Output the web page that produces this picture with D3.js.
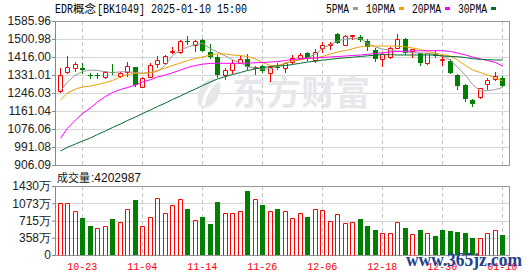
<!DOCTYPE html>
<html>
<head>
<meta charset="utf-8">
<script src="https://cdn.jsdelivr.net/npm/d3@7"></script>
<style>
  body { margin: 0; background: #fff; }
  svg { display: block; }
</style>
</head>
<body>
<div id="chart"></div>
<script>
// trading days shown in the window
const dates = [
  '10-18', '10-21', '10-22', '10-23', '10-24', '10-25', '10-28', '10-29', '10-30', '10-31',
  '11-01', '11-04', '11-05', '11-06', '11-07', '11-08', '11-11', '11-12', '11-13', '11-14',
  '11-15', '11-18', '11-19', '11-20', '11-21', '11-22', '11-25', '11-26', '11-27', '11-28',
  '11-29', '12-02', '12-03', '12-04', '12-05', '12-06', '12-09', '12-10', '12-11', '12-12',
  '12-13', '12-16', '12-17', '12-18', '12-19', '12-20', '12-23', '12-24', '12-25', '12-26',
  '12-27', '12-30', '12-31', '01-02', '01-03', '01-06', '01-07', '01-08', '01-09', '01-10',
];

const open = [
  1255.5, 1346.6, 1365.5, 1362.6, 1331.0, 1329.5, 1320.2, 1346.6, 1326.3, 1343.8,
  1367.4, 1275.8, 1323.0, 1381.5, 1386.3, 1441.0, 1438.2, 1493.0, 1472.7, 1496.3,
  1441.0, 1417.4, 1331.0, 1354.6, 1389.1, 1405.1, 1365.5, 1373.5, 1339.0, 1370.2,
  1365.5, 1391.0, 1412.7, 1433.5, 1401.8, 1457.1, 1474.1, 1524.6, 1474.1, 1515.1,
  1509.0, 1490.1, 1449.0, 1405.1, 1414.6, 1459.9, 1499.6, 1445.7, 1433.5, 1386.3,
  1428.7, 1401.8, 1398.5, 1331.0, 1283.8, 1213.0, 1225.7, 1287.1, 1310.7, 1315.4,
];
const high = [
  1365.5, 1420.7, 1393.8, 1389.1, 1341.9, 1340.5, 1349.9, 1381.5, 1346.6, 1391.0,
  1370.2, 1320.2, 1386.3, 1420.7, 1425.4, 1464.6, 1496.3, 1515.1, 1496.3, 1499.6,
  1477.4, 1425.4, 1362.6, 1401.8, 1420.7, 1428.7, 1373.5, 1378.2, 1373.5, 1386.3,
  1393.8, 1425.4, 1433.5, 1441.0, 1452.4, 1488.2, 1488.2, 1530.7, 1519.9, 1519.9,
  1519.9, 1503.3, 1457.1, 1436.3, 1464.6, 1524.6, 1504.3, 1452.4, 1436.3, 1436.3,
  1444.3, 1425.4, 1405.1, 1335.7, 1288.5, 1216.3, 1271.1, 1315.4, 1343.8, 1327.7,
];
const low = [
  1252.2, 1341.9, 1351.3, 1339.0, 1315.4, 1315.4, 1315.4, 1335.7, 1320.2, 1327.7,
  1279.1, 1272.9, 1320.2, 1370.2, 1381.5, 1433.5, 1433.5, 1476.0, 1445.7, 1444.3,
  1409.9, 1320.2, 1310.7, 1341.9, 1386.3, 1357.9, 1334.3, 1346.6, 1304.1, 1360.8,
  1346.6, 1386.3, 1405.1, 1401.8, 1393.8, 1441.0, 1452.4, 1480.7, 1471.2, 1499.6,
  1491.5, 1449.0, 1398.5, 1374.9, 1409.9, 1457.1, 1430.2, 1414.6, 1378.2, 1382.9,
  1414.6, 1378.2, 1339.0, 1264.9, 1209.7, 1186.1, 1224.2, 1264.9, 1307.4, 1279.1,
];
const close = [
  1331.0, 1370.2, 1381.5, 1354.6, 1327.0, 1328.0, 1346.6, 1339.0, 1341.0, 1374.9,
  1282.4, 1315.4, 1378.2, 1401.8, 1420.7, 1444.3, 1491.5, 1488.2, 1493.0, 1445.7,
  1414.6, 1331.0, 1354.6, 1389.1, 1405.1, 1367.4, 1370.2, 1351.3, 1370.2, 1362.6,
  1389.1, 1412.7, 1425.4, 1405.1, 1441.0, 1472.7, 1477.4, 1483.5, 1515.1, 1519.9,
  1496.3, 1460.9, 1405.1, 1430.2, 1459.9, 1499.6, 1433.5, 1452.4, 1389.1, 1433.5,
  1420.7, 1405.1, 1341.9, 1280.5, 1217.7, 1194.1, 1268.2, 1307.4, 1326.3, 1280.5,
];
const volume = [
  10710000, 10710000, 9060000, 7670000, 6010000, 5530000, 5940000, 7460000, 6770000, 9470000,
  11400000, 5940000, 7810000, 11750000, 8640000, 10360000, 11540000, 9470000, 7190000, 7810000,
  6420000, 10980000, 8640000, 8640000, 9060000, 13260000, 11540000, 10360000, 9060000, 9530000,
  9060000, 7600000, 8640000, 7880000, 9470000, 9260000, 6980000, 8430000, 6570000, 6770000,
  7460000, 6010000, 5180000, 4490000, 4490000, 6770000, 5600000, 4290000, 5180000, 4490000,
  3940000, 5180000, 4970000, 4770000, 4560000, 3520000, 3460000, 4490000, 5180000, 4202987,
];

// moving averages
const ma5 = [
  1255.5, 1298.0, 1331.0, 1347.5, 1354.6, 1352.3, 1346.6, 1341.9, 1346.2, 1346.6,
  1342.8, 1339.0, 1341.9, 1347.5, 1378.2, 1423.0, 1449.0, 1463.2, 1475.0, 1479.8,
  1456.1, 1439.6, 1420.7, 1403.2, 1387.7, 1369.7, 1364.1, 1359.3, 1359.3, 1371.1,
  1386.3, 1397.1, 1403.2, 1411.3, 1430.2, 1456.1, 1475.0, 1491.5, 1500.9, 1504.3,
  1503.3, 1479.8, 1463.2, 1453.8, 1447.6, 1443.3, 1440.5, 1436.3, 1434.9, 1433.5,
  1427.8, 1418.4, 1401.8, 1366.5, 1331.0, 1286.2, 1255.5, 1256.9, 1262.5, 1272.0,
];
const ma10 = [
  1213.0, 1246.0, 1264.9, 1274.4, 1279.1, 1286.2, 1295.6, 1305.1, 1321.6, 1333.4,
  1339.0, 1339.0, 1342.8, 1352.3, 1364.1, 1375.9, 1387.7, 1399.5, 1408.9, 1416.0,
  1425.4, 1431.1, 1430.2, 1425.4, 1423.0, 1418.4, 1406.5, 1390.0, 1375.9, 1375.9,
  1385.4, 1397.1, 1404.2, 1408.9, 1411.3, 1418.4, 1430.2, 1439.6, 1446.7, 1454.7,
  1464.6, 1467.9, 1467.9, 1467.9, 1467.9, 1467.0, 1464.2, 1458.5, 1451.4, 1442.0,
  1433.5, 1427.8, 1420.7, 1401.8, 1375.9, 1354.6, 1342.8, 1331.0, 1316.9, 1302.7,
];
const ma20 = [
  1032.1, 1079.4, 1118.6, 1149.2, 1175.2, 1203.5, 1229.5, 1248.4, 1262.5, 1272.0,
  1283.8, 1298.0, 1308.8, 1321.6, 1331.0, 1341.4, 1354.6, 1366.5, 1375.9, 1382.0,
  1385.8, 1386.3, 1386.3, 1386.3, 1386.3, 1387.7, 1388.6, 1390.0, 1392.4, 1394.3,
  1399.5, 1404.2, 1407.5, 1409.9, 1411.3, 1414.1, 1416.0, 1418.4, 1420.7, 1423.0,
  1425.4, 1428.7, 1432.5, 1436.3, 1439.6, 1442.0, 1443.9, 1444.3, 1445.2, 1445.7,
  1445.7, 1445.7, 1442.0, 1434.9, 1425.4, 1416.0, 1406.5, 1399.5, 1390.0, 1373.5,
];
const ma30 = [
  972.2, 989.7, 1005.2, 1019.4, 1033.6, 1050.1, 1066.6, 1083.1, 1099.7, 1116.2,
  1132.7, 1149.2, 1165.8, 1182.3, 1198.8, 1215.3, 1231.9, 1248.4, 1264.9, 1281.4,
  1298.0, 1312.1, 1323.9, 1333.4, 1342.8, 1352.3, 1360.3, 1366.5, 1371.1, 1373.5,
  1375.9, 1380.6, 1386.7, 1392.4, 1396.2, 1400.9, 1405.1, 1408.9, 1412.2, 1415.1,
  1418.4, 1421.7, 1424.0, 1427.8, 1426.8, 1425.4, 1425.4, 1425.4, 1425.4, 1425.4,
  1425.4, 1420.7, 1418.4, 1417.4, 1413.6, 1408.0, 1405.1, 1403.2, 1401.8, 1401.8,
];

const priceTicks = [906.09, 991.08, 1076.06, 1161.04, 1246.03, 1331.01, 1416.00, 1500.98, 1585.96];
const volumeTicks = [0, 3575000, 7150000, 10725000, 14300000];
const volumeTickLabels = ['0', '358万', '715万', '1073万', '1430万'];
const dateTicks = ['10-23', '11-04', '11-14', '11-26', '12-06', '12-18', '12-30', '01-10'];
const maNames = ['5PMA', '10PMA', '20PMA', '30PMA'];

const colors = {
  up: '#ff0000',
  down: '#008000',
  ma: ['#999999', '#f0a000', '#ff00ff', '#006e30'],
  grid: '#d6d6d6',
  frame: '#999999',
};

const W = 530, H = 276;
const plot = { left: 55, right: 509 };
const price = { top: 21, bottom: 165 };
const vol = { top: 186, bottom: 255 };
const sansFont = '"Liberation Sans", Arial, sans-serif';
const monoFont = '"Liberation Mono", "DejaVu Sans Mono", monospace';
const cjkFont = '"Noto Sans CJK SC", sans-serif';

const svg = d3.select('#chart').append('svg')
  .attr('width', W)
  .attr('height', H);

const x = d3.scaleBand().domain(dates).range([56.5, 506.5]);
const cx = d => Math.floor(x(d) + x.bandwidth() / 2) + 0.5;
const yP = d3.scaleLinear().domain([906.09, 1585.96]).range([price.bottom, price.top]);
const yV = d3.scaleLinear().domain([0, 14300000]).range([vol.bottom, vol.top]);
const px = v => Math.round(v) + 0.5;

const candles = dates.map((d, i) => ({
  date: d, open: open[i], high: high[i], low: low[i], close: close[i], volume: volume[i],
  up: close[i] >= open[i],
  volUp: i === 0 ? close[i] >= open[i] : close[i] >= close[i - 1],
}));

// grids
const grid = svg.append('g').attr('class', 'grid');
grid.selectAll('line.h')
  .data(priceTicks)
  .join('line')
  .attr('class', 'h')
  .attr('x1', plot.left).attr('x2', plot.right)
  .attr('y1', d => px(yP(d))).attr('y2', d => px(yP(d)))
  .attr('stroke', colors.grid);
grid.selectAll('line.hv')
  .data(volumeTicks)
  .join('line')
  .attr('class', 'hv')
  .attr('x1', plot.left).attr('x2', plot.right)
  .attr('y1', d => px(yV(d))).attr('y2', d => px(yV(d)))
  .attr('stroke', colors.grid);
[[price.top, price.bottom], [vol.top, vol.bottom]].forEach(([t, b]) => {
  grid.append('g').selectAll('line')
    .data(dateTicks)
    .join('line')
    .attr('x1', d => cx(d)).attr('x2', d => cx(d))
    .attr('y1', t).attr('y2', b)
    .attr('stroke', '#c4c4c4')
    .attr('stroke-dasharray', '4,3');
});

// east money watermark
const wm = svg.append('g').attr('fill', '#e7e7eb');
wm.append('ellipse')
  .attr('cx', 209).attr('cy', 93)
  .attr('rx', 10).attr('ry', 16)
  .attr('transform', 'rotate(28 209 93)');
wm.append('path')
  .attr('d', 'M203,106 C204,96 210,86 219,79')
  .attr('fill', 'none')
  .attr('stroke', '#fff')
  .attr('stroke-width', 3);
wm.append('text')
  .attr('x', 232).attr('y', 105)
  .attr('font-family', cjkFont)
  .attr('font-weight', 'bold')
  .attr('font-size', 34)
  .attr('textLength', 138)
  .text('东方财富');

// frames
[[price.top, price.bottom], [vol.top, vol.bottom]].forEach(([t, b]) => {
  svg.append('rect')
    .attr('x', plot.left + 0.5).attr('y', t + 0.5)
    .attr('width', plot.right - plot.left).attr('height', b - t)
    .attr('fill', 'none')
    .attr('stroke', colors.frame);
});

// candles
const cg = svg.append('g').attr('class', 'candles');
candles.forEach(c => {
  const xc = cx(c.date);
  const yo = Math.round(yP(c.open));
  const yc = Math.round(yP(c.close));
  const yh = Math.round(yP(c.high));
  const yl = Math.round(yP(c.low));
  if (c.up) {
    const top = Math.min(yo, yc), bot = Math.max(yo, yc);
    cg.append('line').attr('x1', xc).attr('x2', xc).attr('y1', yh).attr('y2', top)
      .attr('stroke', colors.up);
    cg.append('line').attr('x1', xc).attr('x2', xc).attr('y1', bot + 1).attr('y2', yl + 1)
      .attr('stroke', colors.up);
    cg.append('path')
      .attr('d', `M${xc - 2},${top + 0.5}h4v${bot - top}h-4Z`)
      .attr('fill', 'none')
      .attr('stroke', colors.up);
  } else {
    cg.append('line').attr('x1', xc).attr('x2', xc).attr('y1', yh).attr('y2', yl + 1)
      .attr('stroke', colors.down);
    cg.append('rect')
      .attr('x', xc - 2.5).attr('y', yo)
      .attr('width', 5).attr('height', Math.max(yc - yo, 1))
      .attr('fill', colors.down);
  }
});

// moving averages
const line = d3.line().x((d, i) => cx(dates[i])).y(d => yP(d));
[ma5, ma10, ma20, ma30].forEach((s, k) => {
  svg.append('path')
    .datum(s)
    .attr('d', line)
    .attr('fill', 'none')
    .attr('stroke', colors.ma[k])
    .attr('stroke-width', 1);
});

// volume bars
const vg = svg.append('g').attr('class', 'volume');
candles.forEach(c => {
  const xc = cx(c.date);
  const yt = Math.round(yV(c.volume));
  if (c.volUp) {
    vg.append('path')
      .attr('d', `M${xc - 2},${vol.bottom + 0.5}V${yt + 0.5}h4V${vol.bottom + 0.5}`)
      .attr('fill', 'none')
      .attr('stroke', colors.up);
  } else {
    vg.append('rect')
      .attr('x', xc - 2.5).attr('y', yt)
      .attr('width', 5).attr('height', vol.bottom - yt)
      .attr('fill', colors.down);
  }
});

// axes
function styleAxis(g) {
  g.select('.domain').attr('stroke', '#888');
  g.selectAll('.tick line').attr('stroke', '#888');
  g.selectAll('.tick text')
    .attr('fill', '#222')
    .attr('font-family', sansFont)
    .attr('font-size', 12);
}
svg.append('g')
  .attr('transform', `translate(${plot.left},0)`)
  .call(d3.axisLeft(yP).tickValues(priceTicks).tickSize(3).tickSizeOuter(0)
    .tickPadding(1).tickFormat(d3.format('.2f')))
  .call(styleAxis);
svg.append('g')
  .attr('transform', `translate(${plot.left},0)`)
  .call(d3.axisLeft(yV).tickValues(volumeTicks).tickSize(3).tickSizeOuter(0)
    .tickPadding(1).tickFormat((d, i) => volumeTickLabels[i]))
  .call(styleAxis);

const xAxis = svg.append('g')
  .attr('transform', `translate(-0.5,${vol.bottom})`)
  .call(d3.axisBottom(x).tickValues(dateTicks).tickSize(0).tickPadding(7));
xAxis.select('.domain').remove();
xAxis.selectAll('.tick text')
  .attr('fill', colors.up)
  .attr('font-family', monoFont)
  .attr('font-size', 11)
  .attr('textLength', 30)
  .attr('lengthAdjust', 'spacingAndGlyphs');

// title, placed piece by piece on a 6px half-width grid
function gridText(x0, y0, str, opts = {}) {
  return svg.append('text')
    .attr('x', x0).attr('y', y0)
    .attr('font-family', opts.font || monoFont)
    .attr('font-size', opts.size || 12)
    .attr('fill', opts.fill || '#000')
    .attr('textLength', opts.width)
    .attr('lengthAdjust', 'spacingAndGlyphs')
    .text(str);
}
gridText(55, 13, 'EDR', { width: 18 });
gridText(73, 13, '概念', { font: cjkFont, size: 11, width: 23 });
gridText(97, 13, '[BK1049] 2025-01-10 15:00', { width: 150 });

// legend
let lx = 326;
maNames.forEach((name, k) => {
  const w = name.length * 6;
  gridText(lx, 13, name, { width: w - 1 });
  svg.append('rect')
    .attr('x', lx + w + 3).attr('y', 7)
    .attr('width', 5).attr('height', 3)
    .attr('fill', colors.ma[k]);
  lx += w + 3 + 5 + 8;
});

// volume label
gridText(57, 182, '成交量', { font: cjkFont, size: 11, width: 33, fill: '#111' });
gridText(91, 182, ':' + volume[volume.length - 1], { font: sansFont, width: 50, fill: '#111' });

// site watermark
svg.append('text')
  .attr('x', 406).attr('y', 266)
  .attr('font-family', '"Liberation Serif", serif')
  .attr('font-weight', 'bold')
  .attr('font-size', 19)
  .attr('fill', '#21418a')
  .attr('textLength', 116)
  .attr('lengthAdjust', 'spacingAndGlyphs')
  .text('www.365jz.com');
</script>
</body>
</html>
